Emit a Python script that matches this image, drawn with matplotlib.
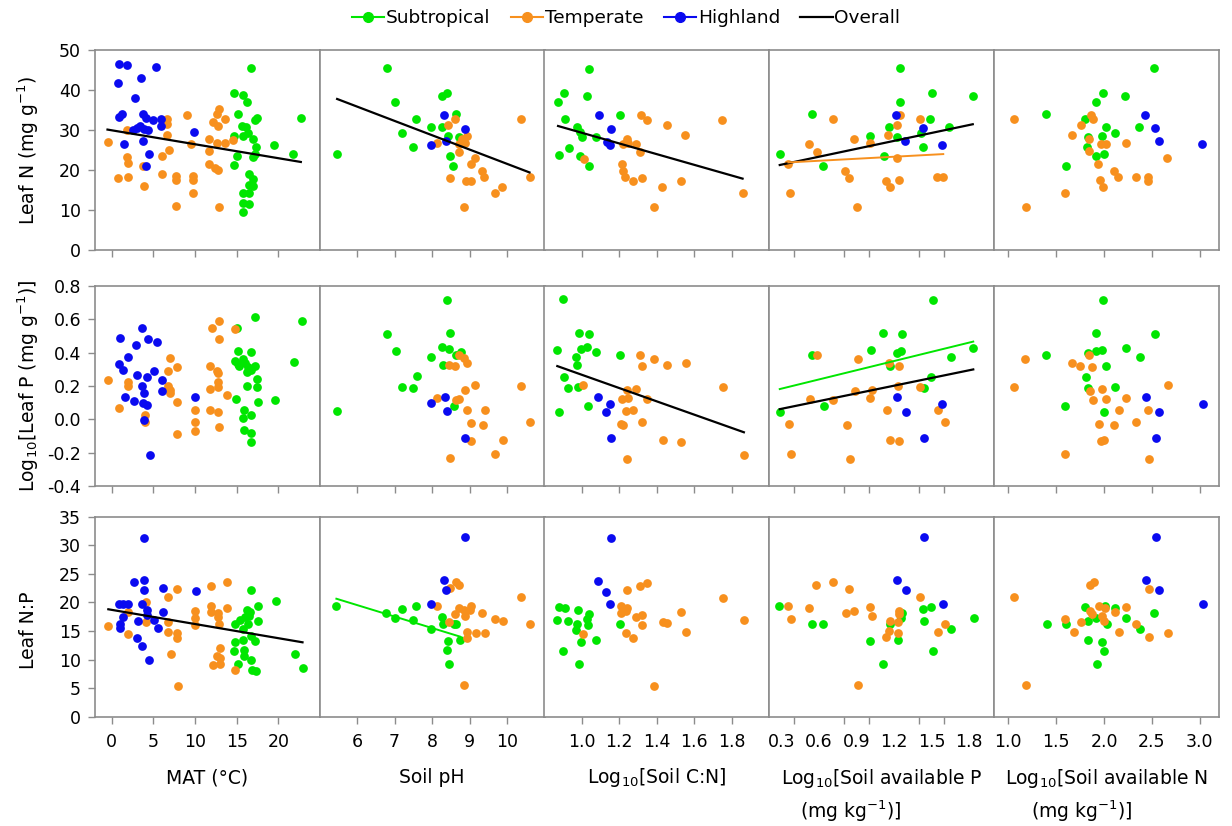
"""Leaf N, P and N:P against climate and soil variables, 3 x 5 scatter grid."""

import matplotlib

matplotlib.use("Agg")
import matplotlib.pyplot as plt
from matplotlib.lines import Line2D
from matplotlib.ticker import FixedLocator, FormatStrFormatter
import numpy as np

plt.rcParams["font.family"] = ["DejaVu Sans"]
plt.rcParams["mathtext.default"] = "regular"
plt.rcParams["axes.unicode_minus"] = False

SUB_C = "#00E600"
TEM_C = "#F7901E"
HIG_C = "#0A0AF0"
AX_C = "#8C8C8C"

# ---- row 1: leaf N (mg/g) ----
n_mat_sub = [(14.7, 39.3), (15.1, 34.0), (14.7, 28.6), (15.0, 23.6), (14.7, 21.2), (15.7, 38.7),
             (16.2, 37.1), (16.7, 45.6), (15.6, 30.9), (16.1, 30.7), (15.7, 28.4), (16.3, 29.3),
             (17.2, 32.4), (17.4, 32.9), (17.0, 27.8), (17.3, 25.8), (17.2, 24.1), (17.0, 23.2),
             (16.5, 19.1), (17.0, 17.7), (16.5, 16.2), (17.0, 15.9), (15.7, 14.2), (16.5, 14.2),
             (15.7, 11.7), (16.5, 11.5), (15.7, 9.6), (19.5, 26.3), (21.8, 24.1), (22.7, 32.9)]
n_mat_tem = [(-0.5, 26.9), (0.8, 18.1), (2.0, 18.2), (1.8, 30.1), (1.8, 23.2), (2.0, 21.7),
             (3.9, 15.9), (3.8, 20.9), (6.6, 32.8), (6.6, 31.4), (6.6, 28.8), (6.9, 25.1),
             (6.0, 23.6), (6.0, 19.0), (7.7, 18.4), (7.7, 17.4), (7.7, 10.9), (9.0, 33.7),
             (9.5, 26.5), (9.8, 18.4), (9.8, 17.4), (9.8, 14.2), (11.7, 27.8), (11.7, 24.7),
             (11.7, 21.5), (12.4, 20.5), (12.7, 19.9), (12.1, 32.0), (12.6, 33.9), (12.9, 35.3),
             (12.8, 30.9), (12.6, 26.8), (13.6, 26.8), (13.6, 32.8), (12.9, 10.7), (14.6, 27.6)]
n_mat_hig = [(0.9, 46.6), (1.8, 46.3), (5.3, 45.7), (0.8, 41.8), (3.5, 43.0), (2.8, 38.1),
             (0.9, 33.3), (1.2, 33.9), (3.8, 33.9), (4.1, 33.0), (5.0, 32.4), (5.9, 32.8),
             (5.9, 31.1), (2.6, 30.1), (3.0, 30.5), (3.4, 30.9), (3.9, 30.3), (4.3, 30.1),
             (1.5, 26.4), (3.8, 27.3), (4.5, 24.0), (4.1, 20.9), (9.9, 29.4)]

n_ph_sub = [(6.79, 45.4), (5.47, 23.9), (7.02, 37.1), (7.58, 32.8), (7.21, 29.3), (7.48, 25.7),
            (8.27, 38.6), (8.39, 39.3), (7.98, 30.8), (8.27, 30.75), (8.63, 33.9), (8.42, 28.5),
            (8.73, 28.3), (8.47, 23.5), (8.56, 21.1)]
n_ph_tem = [(10.37, 32.7), (10.60, 18.2), (8.61, 32.75), (8.43, 31.2), (8.14, 26.8), (8.81, 27.75),
            (8.94, 28.6), (8.88, 26.7), (8.72, 26.5), (8.72, 24.6), (9.14, 23.0), (9.04, 21.4),
            (9.34, 19.8), (9.38, 18.3), (8.47, 18.0), (8.91, 17.25), (9.03, 17.3), (9.87, 15.8),
            (9.69, 14.3), (8.85, 10.8)]
n_ph_hig = [(8.33, 33.8), (8.88, 30.3), (7.96, 26.3), (8.38, 27.2)]

n_cn_sub = [(1.042, 45.3), (0.907, 39.3), (1.030, 38.5), (0.875, 37.1), (1.203, 33.8), (0.912, 32.75),
            (0.977, 30.8), (0.991, 29.4), (1.004, 28.3), (1.079, 28.2), (0.935, 25.6), (0.882, 23.8),
            (0.991, 23.5), (1.041, 21.0)]
n_cn_tem = [(1.317, 33.75), (1.347, 32.5), (1.455, 31.3), (1.554, 28.7), (1.750, 32.5), (1.245, 27.75),
            (1.220, 26.4), (1.250, 26.7), (1.291, 26.5), (1.310, 24.6), (1.012, 22.8), (1.215, 21.4),
            (1.219, 19.75), (1.233, 18.3), (1.272, 17.2), (1.321, 18.1), (1.430, 15.75), (1.529, 17.3),
            (1.388, 10.7), (1.859, 14.2)]
n_cn_hig = [(1.092, 33.75), (1.157, 30.3), (1.136, 27.1), (1.150, 26.25)]

n_ap_sub = [(1.25, 45.4), (1.50, 39.3), (1.245, 37.1), (1.83, 38.6), (0.54, 33.9), (1.49, 32.8),
            (1.158, 30.75), (1.64, 30.8), (1.008, 28.5), (1.225, 28.3), (1.417, 29.2), (1.43, 25.7),
            (0.286, 23.9), (1.12, 23.5), (0.635, 21.1)]
n_ap_tem = [(0.709, 32.7), (1.245, 33.75), (1.225, 31.25), (1.404, 32.7), (1.153, 28.75), (0.88, 27.8),
            (0.522, 26.4), (1.008, 26.7), (0.58, 24.6), (1.225, 22.9), (0.355, 21.4), (0.81, 19.75),
            (0.841, 18.1), (1.132, 17.25), (1.166, 15.8), (1.237, 17.4), (1.54, 18.3), (1.594, 18.2),
            (0.368, 14.3), (0.904, 10.8)]
n_ap_hig = [(1.219, 33.8), (1.433, 30.4), (1.287, 27.2), (1.583, 26.25)]

n_an_sub = [(2.52, 45.4), (1.984, 39.2), (1.915, 37.0), (2.217, 38.6), (1.39, 33.9), (1.80, 32.8),
            (2.02, 30.8), (2.363, 30.8), (2.113, 29.2), (1.828, 28.3), (1.974, 28.5), (1.824, 25.8),
            (1.915, 23.5), (1.998, 23.9), (1.598, 21.1)]
n_an_tem = [(1.063, 32.7), (1.863, 33.75), (1.887, 32.7), (1.755, 31.25), (1.668, 28.75), (1.845, 27.8),
            (1.967, 26.5), (2.019, 26.5), (2.224, 26.8), (1.842, 24.75), (2.66, 22.9), (1.939, 21.4),
            (2.10, 19.75), (2.15, 18.3), (2.33, 18.2), (2.46, 18.2), (2.454, 17.25), (1.957, 17.5),
            (1.991, 15.8), (1.59, 14.3), (1.18, 10.8)]
n_an_hig = [(2.43, 33.8), (2.53, 30.4), (2.57, 27.2), (3.02, 26.4)]

# ---- row 2: log10 leaf P (mg/g) ----
p_mat_sub = [(17.2, 0.613), (22.8, 0.593), (15.0, 0.547), (15.1, 0.413), (16.7, 0.407), (14.8, 0.351),
             (15.2, 0.333), (15.7, 0.361), (16.0, 0.337), (16.3, 0.317), (17.2, 0.321), (16.7, 0.297),
             (16.2, 0.283), (15.3, 0.321), (21.9, 0.347), (17.4, 0.242), (16.2, 0.198), (17.4, 0.192),
             (14.9, 0.124), (19.6, 0.118), (17.5, 0.102), (15.9, 0.055), (16.7, 0.027), (15.8, 0.009),
             (15.9, -0.065), (16.7, -0.081), (16.7, -0.135)]
p_mat_tem = [(-0.4, 0.238), (0.9, 0.066), (2.0, 0.222), (2.0, 0.202), (4.0, 0.028), (4.0, -0.014),
             (7.0, 0.369), (6.7, 0.292), (7.8, 0.312), (6.8, 0.198), (7.0, 0.178), (7.0, 0.158),
             (7.8, 0.104), (7.8, -0.087), (10.0, 0.058), (10.0, -0.018), (10.0, -0.071), (12.0, 0.551),
             (12.9, 0.591), (12.9, 0.483), (11.8, 0.323), (12.6, 0.288), (12.8, 0.278), (12.8, 0.224),
             (11.8, 0.184), (12.8, 0.192), (13.8, 0.148), (11.8, 0.055), (12.8, 0.047), (12.9, -0.045),
             (14.8, 0.541)]
p_mat_hig = [(1.0, 0.487), (3.6, 0.547), (4.4, 0.483), (5.4, 0.467), (2.9, 0.447), (1.9, 0.373),
             (0.9, 0.332), (1.3, 0.298), (3.0, 0.268), (5.1, 0.292), (4.2, 0.254), (6.0, 0.238),
             (3.6, 0.198), (3.9, 0.158), (6.0, 0.172), (1.6, 0.134), (2.7, 0.112), (3.8, 0.098),
             (4.2, 0.086), (3.9, -0.006), (4.6, -0.211), (10.0, 0.134)]

p_ph_sub = [(8.41, 0.716), (6.79, 0.511), (8.47, 0.517), (7.04, 0.411), (8.27, 0.435), (8.45, 0.421),
            (7.98, 0.375), (8.63, 0.387), (8.76, 0.403), (8.30, 0.326), (7.59, 0.258), (7.21, 0.196),
            (7.49, 0.188), (5.47, 0.053), (8.58, 0.082)]
p_ph_tem = [(8.73, 0.387), (8.85, 0.367), (8.94, 0.338), (8.45, 0.328), (8.61, 0.322), (9.14, 0.208),
            (8.88, 0.178), (10.37, 0.198), (8.14, 0.128), (8.65, 0.118), (8.73, 0.124), (8.94, 0.059),
            (9.40, 0.059), (10.62, -0.013), (9.05, -0.021), (9.35, -0.031), (9.03, -0.127),
            (9.88, -0.121), (9.69, -0.205), (8.47, -0.231)]
p_ph_hig = [(8.34, 0.136), (7.96, 0.098), (8.39, 0.049), (8.89, -0.109)]

p_cn_sub = [(0.901, 0.722), (0.989, 0.520), (1.039, 0.512), (0.871, 0.415), (0.996, 0.421), (1.028, 0.436),
            (1.076, 0.402), (1.204, 0.387), (0.973, 0.375), (0.976, 0.326), (0.907, 0.257), (0.928, 0.189),
            (0.980, 0.196), (1.035, 0.082), (0.878, 0.046)]
p_cn_tem = [(1.311, 0.387), (1.320, 0.320), (1.388, 0.364), (1.457, 0.326), (1.557, 0.337), (1.752, 0.196),
            (1.008, 0.206), (1.245, 0.179), (1.291, 0.183), (1.217, 0.122), (1.249, 0.126), (1.348, 0.120),
            (1.235, 0.053), (1.272, 0.057), (1.213, -0.027), (1.222, -0.036), (1.322, -0.017),
            (1.432, -0.126), (1.530, -0.133), (1.866, -0.211), (1.240, -0.238)]
p_cn_hig = [(1.088, 0.133), (1.151, 0.095), (1.133, 0.042), (1.156, -0.112)]

p_ap_sub = [(1.51, 0.716), (1.114, 0.516), (1.26, 0.51), (1.014, 0.416), (1.225, 0.40), (1.257, 0.41),
            (1.834, 0.43), (0.546, 0.384), (1.654, 0.372), (1.165, 0.322), (1.498, 0.254), (1.442, 0.186),
            (0.64, 0.08), (0.286, 0.046)]
p_ap_tem = [(0.585, 0.384), (0.913, 0.36), (1.159, 0.336), (1.239, 0.32), (0.886, 0.172), (1.02, 0.176),
            (1.23, 0.202), (1.41, 0.192), (0.53, 0.124), (0.712, 0.116), (1.008, 0.126), (1.14, 0.056),
            (1.551, 0.054), (0.36, -0.026), (0.82, -0.036), (1.604, -0.018), (1.167, -0.124),
            (1.239, -0.13), (0.373, -0.208), (0.844, -0.236)]
p_ap_hig = [(1.225, 0.132), (1.585, 0.094), (1.294, 0.044), (1.437, -0.11)]

p_an_sub = [(1.984, 0.716), (1.92, 0.516), (2.527, 0.51), (1.827, 0.40), (1.914, 0.41), (1.974, 0.416),
            (2.23, 0.43), (1.389, 0.384), (2.37, 0.372), (2.023, 0.322), (1.806, 0.254), (1.827, 0.19),
            (2.114, 0.192), (1.595, 0.08), (2.00, 0.046)]
p_an_tem = [(1.179, 0.36), (1.844, 0.384), (1.669, 0.336), (1.753, 0.322), (1.869, 0.316), (1.056, 0.194),
            (2.664, 0.204), (1.855, 0.172), (1.974, 0.18), (1.886, 0.116), (2.019, 0.124), (2.226, 0.126),
            (2.156, 0.054), (2.457, 0.056), (1.942, -0.026), (2.107, -0.034), (2.334, -0.018),
            (1.963, -0.13), (1.995, -0.126), (1.588, -0.208), (2.464, -0.236)]
p_an_hig = [(2.436, 0.132), (2.576, 0.044), (3.032, 0.094), (2.541, -0.11)]

# ---- row 3: leaf N:P ----
np_mat_sub = [(16.7, 22.2), (19.7, 20.3), (17.5, 19.3), (16.2, 18.7), (16.6, 18.4), (14.8, 16.2),
              (15.4, 16.9), (16.0, 17.5), (16.5, 17.6), (17.5, 16.7), (15.8, 15.3), (16.3, 16.2),
              (15.8, 13.4), (16.7, 14.1), (17.2, 13.3), (14.8, 13.1), (14.7, 11.5), (15.9, 11.7),
              (15.9, 10.6), (16.7, 10.0), (15.2, 9.2), (22.0, 11.0), (22.9, 8.5), (16.8, 8.1),
              (17.3, 8.0)]
np_mat_tem = [(-0.4, 15.9), (2.0, 18.3), (2.0, 14.5), (4.1, 20.1), (4.1, 16.6), (7.8, 22.3),
              (6.7, 20.9), (6.8, 16.5), (6.7, 14.9), (7.8, 14.7), (7.8, 13.7), (7.1, 10.9),
              (7.9, 5.4), (10.0, 18.5), (10.0, 17.2), (10.0, 16.0), (11.9, 22.9), (13.8, 23.6),
              (11.9, 19.3), (11.9, 18.4), (13.8, 19.1), (12.8, 18.1), (12.8, 17.5), (12.9, 16.2),
              (13.0, 12.1), (12.6, 10.7), (13.0, 10.2), (12.1, 9.0), (13.0, 9.2), (14.8, 8.1)]
np_mat_hig = [(3.9, 31.3), (2.7, 23.5), (3.9, 23.9), (3.9, 22.1), (6.1, 22.5), (10.1, 22.0),
              (0.9, 19.7), (1.4, 19.7), (1.9, 19.8), (3.6, 19.8), (4.2, 18.7), (4.2, 17.8),
              (6.1, 18.4), (1.3, 17.5), (3.1, 16.7), (5.1, 16.9), (5.5, 15.6), (1.0, 16.2),
              (1.0, 15.5), (3.0, 13.7), (3.6, 12.3), (4.5, 9.9)]

np_ph_sub = [(5.45, 19.3), (6.78, 18.1), (7.02, 17.2), (7.21, 18.9), (7.58, 19.3), (7.48, 16.9),
             (8.27, 17.4), (8.29, 16.2), (8.58, 16.3), (8.65, 16.3), (7.97, 15.3), (8.74, 13.5),
             (8.43, 13.2), (8.40, 11.6), (8.46, 9.3)]
np_ph_tem = [(8.64, 23.6), (8.73, 23.0), (8.49, 22.5), (10.37, 21.0), (8.13, 19.3), (8.71, 19.1),
             (8.86, 18.7), (9.05, 19.4), (8.60, 18.0), (8.89, 17.6), (9.02, 18.6), (9.33, 18.2),
             (9.69, 17.1), (9.88, 16.7), (10.62, 16.3), (8.44, 16.6), (8.93, 14.9), (9.16, 14.6),
             (9.40, 14.7), (8.93, 13.8), (8.86, 5.5)]
np_ph_hig = [(8.89, 31.4), (8.33, 23.9), (8.38, 22.2), (7.96, 19.8)]

np_cn_sub = [(0.878, 19.2), (0.910, 19.0), (0.982, 18.7), (1.039, 18.0), (0.871, 17.0), (0.928, 16.7),
             (1.028, 17.1), (0.976, 16.3), (1.035, 16.1), (1.204, 16.3), (0.969, 15.2), (0.996, 13.1),
             (1.076, 13.4), (0.901, 11.5), (0.989, 9.3)]
np_cn_tem = [(1.240, 22.1), (1.311, 22.8), (1.348, 23.4), (1.752, 20.8), (1.213, 19.3), (1.245, 19.0),
             (1.235, 18.5), (1.213, 18.1), (1.530, 18.4), (1.291, 17.4), (1.320, 17.8), (1.432, 16.6),
             (1.457, 16.4), (1.866, 16.9), (1.322, 16.1), (1.008, 14.5), (1.235, 14.6), (1.557, 14.8),
             (1.272, 13.7), (1.388, 5.4)]
np_cn_hig = [(1.156, 31.2), (1.088, 23.7), (1.133, 21.9), (1.151, 19.7)]

np_ap_sub = [(0.28, 19.4), (1.431, 18.8), (1.498, 19.25), (1.264, 18.1), (1.259, 17.2), (1.836, 17.3),
             (0.546, 16.3), (0.633, 16.3), (1.436, 16.8), (1.165, 16.2), (1.654, 15.3), (1.011, 13.2),
             (1.229, 13.5), (1.509, 11.55), (1.112, 9.3)]
np_ap_tem = [(0.71, 23.6), (0.578, 23.0), (0.841, 22.3), (1.41, 21.0), (0.354, 19.4), (0.519, 19.1),
             (1.006, 19.25), (0.817, 18.2), (0.883, 18.55), (1.02, 17.6), (1.242, 18.5), (1.237, 18.0),
             (0.373, 17.1), (1.17, 16.8), (1.229, 16.6), (1.604, 16.2), (1.157, 15.0), (1.229, 14.6),
             (1.138, 13.9), (1.548, 14.75), (0.91, 5.5)]
np_ap_hig = [(1.442, 31.4), (1.224, 23.9), (1.295, 22.2), (1.59, 19.8)]

np_an_sub = [(1.803, 19.25), (2.005, 19.4), (2.117, 19.0), (1.401, 16.3), (1.6, 16.2), (1.831, 16.8),
             (1.914, 17.2), (2.03, 16.2), (2.232, 17.3), (2.525, 18.1), (2.372, 15.3), (1.831, 13.5),
             (1.977, 13.1), (1.995, 11.5), (1.925, 9.3)]
np_an_tem = [(1.848, 23.0), (1.89, 23.6), (2.466, 22.3), (1.059, 21.0), (1.942, 19.4), (2.012, 19.1),
             (2.229, 19.25), (1.855, 18.55), (1.873, 17.9), (2.11, 18.3), (1.977, 17.6), (2.002, 16.8),
             (1.593, 17.1), (1.757, 16.6), (2.337, 16.2), (1.681, 14.9), (2.159, 14.8), (2.466, 13.9),
             (2.665, 14.6), (1.185, 5.5)]
np_an_hig = [(2.543, 31.4), (2.438, 23.9), (2.578, 22.2), (3.035, 19.8)]

# significant regressions: (group, slope, intercept)
fits = {
    ("n", "mat"): [("all", -0.349, 29.93)],
    ("np", "mat"): [("all", -0.248, 18.7)],
    ("n", "ph"): [("all", -3.58, 57.34)],
    ("np", "ph"): [("sub", -2.01, 31.6)],
    ("n", "cn"): [("all", -13.37, 42.7)],
    ("p", "cn"): [("all", -0.399, 0.667)],
    ("n", "ap"): [("all", 6.6, 19.36), ("tem", 1.68, 21.3)],
    ("p", "ap"): [("all", 0.154, 0.017), ("sub", 0.184, 0.129)],
}

panels = {
    ("n", "mat"): (n_mat_sub, n_mat_tem, n_mat_hig),
    ("n", "ph"): (n_ph_sub, n_ph_tem, n_ph_hig),
    ("n", "cn"): (n_cn_sub, n_cn_tem, n_cn_hig),
    ("n", "ap"): (n_ap_sub, n_ap_tem, n_ap_hig),
    ("n", "an"): (n_an_sub, n_an_tem, n_an_hig),
    ("p", "mat"): (p_mat_sub, p_mat_tem, p_mat_hig),
    ("p", "ph"): (p_ph_sub, p_ph_tem, p_ph_hig),
    ("p", "cn"): (p_cn_sub, p_cn_tem, p_cn_hig),
    ("p", "ap"): (p_ap_sub, p_ap_tem, p_ap_hig),
    ("p", "an"): (p_an_sub, p_an_tem, p_an_hig),
    ("np", "mat"): (np_mat_sub, np_mat_tem, np_mat_hig),
    ("np", "ph"): (np_ph_sub, np_ph_tem, np_ph_hig),
    ("np", "cn"): (np_cn_sub, np_cn_tem, np_cn_hig),
    ("np", "ap"): (np_ap_sub, np_ap_tem, np_ap_hig),
    ("np", "an"): (np_an_sub, np_an_tem, np_an_hig),
}

rows = ["n", "p", "np"]
cols = ["mat", "ph", "cn", "ap", "an"]
row_lim = {"n": (0, 50), "p": (-0.4, 0.8), "np": (0, 35)}
row_ticks = {"n": np.arange(0, 51, 10), "p": np.round(np.arange(-0.4, 0.81, 0.2), 1),
             "np": np.arange(0, 36, 5)}
row_labels = {"n": "Leaf N (mg g$^{-1}$)", "p": "Log$_{10}$[Leaf P (mg g$^{-1}$)]", "np": "Leaf N:P"}
col_lim = {"mat": (-2, 25), "ph": (5, 11), "cn": (0.8, 2.0), "ap": (0.2, 2.0), "an": (0.85, 3.2)}
col_ticks = {"mat": [0, 5, 10, 15, 20], "ph": [6, 7, 8, 9, 10], "cn": [1.0, 1.2, 1.4, 1.6, 1.8],
             "ap": [0.3, 0.6, 0.9, 1.2, 1.5, 1.8], "an": [1.0, 1.5, 2.0, 2.5, 3.0]}
col_fmt = {"mat": "%d", "ph": "%d", "cn": "%.1f", "ap": "%.1f", "an": "%.1f"}

W, H = 1232, 826
col_left = [95, 319.5, 544, 769, 994]
row_top = [50, 286, 516.7]
PW, PH = 225, 200

fig = plt.figure(figsize=(W / 100, H / 100), dpi=100)

for r, rk in enumerate(rows):
    for c, ck in enumerate(cols):
        ax = fig.add_axes([col_left[c] / W, 1 - (row_top[r] + PH) / H, PW / W, PH / H])
        groups = panels[(rk, ck)]
        for pts, color in zip(groups, [SUB_C, TEM_C, HIG_C]):
            arr = np.array(pts)
            ax.plot(arr[:, 0], arr[:, 1], "o", ms=6.3, color=color, mec="none", zorder=3)
        for grp, slope, icpt in fits.get((rk, ck), []):
            if grp == "all":
                xs = np.concatenate([np.array(g)[:, 0] for g in groups])
                lc, lw = "black", 1.6
            elif grp == "sub":
                xs = np.array(groups[0])[:, 0]
                lc, lw = SUB_C, 1.4
            else:
                xs = np.array(groups[1])[:, 0]
                lc, lw = TEM_C, 1.4
            xx = np.array([xs.min(), xs.max()])
            ax.plot(xx, slope * xx + icpt, color=lc, lw=lw, zorder=4)

        ax.set_xlim(*col_lim[ck])
        ax.set_ylim(*row_lim[rk])
        for sp in ax.spines.values():
            sp.set_color(AX_C)
            sp.set_linewidth(1.2)

        ax.xaxis.set_major_locator(FixedLocator(col_ticks[ck]))
        ax.xaxis.set_major_formatter(FormatStrFormatter(col_fmt[ck]))
        ax.tick_params(axis="both", which="both", direction="out", color=AX_C,
                       labelsize=12.5, width=1.0, length=5)
        ax.tick_params(axis="x", pad=7, labelbottom=(r == 2))
        if ck == "ap":
            # labels at 0.3 steps, tick marks at 0.2 steps
            ax.xaxis.set_minor_locator(FixedLocator([0.4, 0.6, 0.8, 1.0, 1.2, 1.4, 1.6, 1.8]))
            ax.tick_params(axis="x", which="major", length=0, pad=12)
            ax.tick_params(axis="x", which="minor", length=5)

        ax.yaxis.set_major_locator(FixedLocator(row_ticks[rk]))
        if c == 0:
            if rk == "p":
                ax.yaxis.set_major_formatter(FormatStrFormatter("%.1f"))
            ax.tick_params(axis="y", pad=5)
        else:
            ax.tick_params(axis="y", left=False, labelleft=False)

        if r == 2:
            if ck in ("ap", "an"):
                head = "Log$_{10}$[Soil available " + ("P" if ck == "ap" else "N")
                ax.text(0.5, -0.31, head, transform=ax.transAxes, ha="center", va="center",
                        fontsize=13.5)
                ax.text(0.364 if ck == "ap" else 0.39, -0.475, "(mg kg$^{-1}$)]",
                        transform=ax.transAxes, ha="center", va="center", fontsize=13.5)
            else:
                lab = {"mat": "MAT (°C)", "ph": "Soil pH", "cn": "Log$_{10}$[Soil C:N]"}[ck]
                ax.text(0.5, -0.305, lab, transform=ax.transAxes, ha="center", va="center",
                        fontsize=13.5)

for r, rk in enumerate(rows):
    yc = [150, 386, 630][r]
    fig.text(28 / W, 1 - yc / H, row_labels[rk], rotation=90, ha="center", va="center",
             fontsize=13.5)

handles = [
    Line2D([], [], color=SUB_C, marker="o", ms=7, lw=1.5, label="Subtropical"),
    Line2D([], [], color=TEM_C, marker="o", ms=7, lw=1.5, label="Temperate"),
    Line2D([], [], color=HIG_C, marker="o", ms=7, lw=1.5, label="Highland"),
    Line2D([], [], color="black", lw=1.6, label="Overall"),
]
fig.legend(handles=handles, loc="center", bbox_to_anchor=(626 / W, 1 - 18 / H), ncol=4,
           frameon=False, fontsize=13.3, handlelength=1.75, handletextpad=0.1,
           columnspacing=1.1, borderpad=0)

fig.savefig("out.png", dpi=100)
plt.close(fig)
